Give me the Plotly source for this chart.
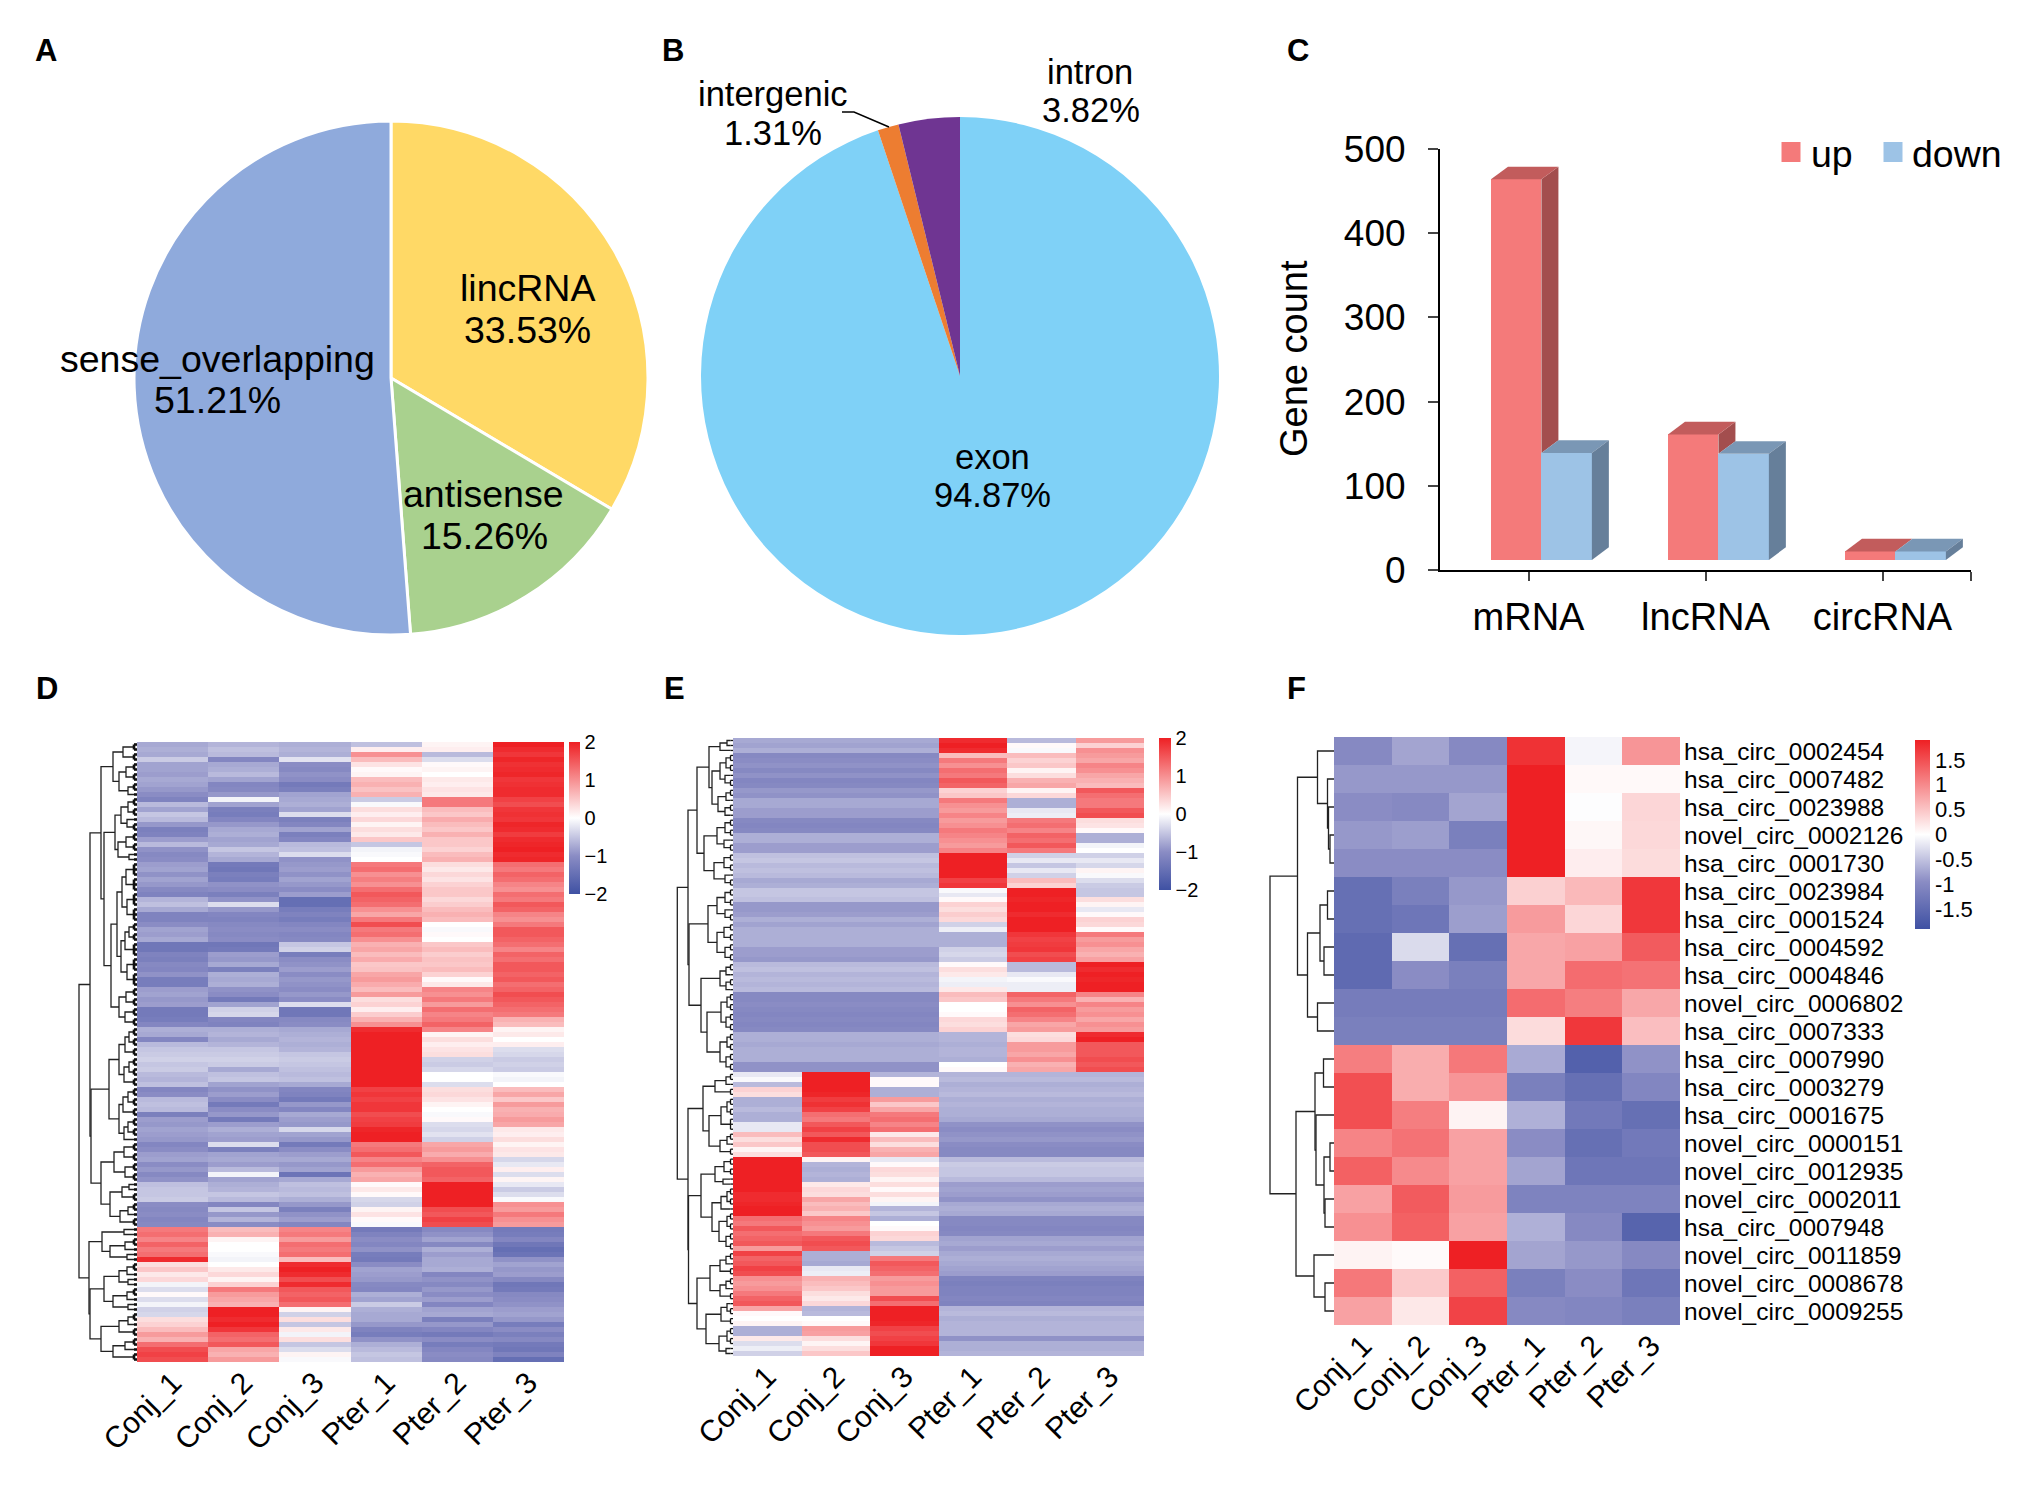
import numpy as np
import plotly.graph_objects as go

W, H = 2033, 1492
FONT = "Liberation Sans"

# panel A and B pies
a_labels = ["lincRNA", "antisense", "sense_overlapping"]
a_values = [33.53, 15.26, 51.21]
a_colors = ["#FFD966", "#A9D18E", "#8FAADC"]
b_labels = ["exon", "intergenic", "intron"]
b_values = [94.87, 1.31, 3.82]
b_colors = ["#7FD1F7", "#ED7D31", "#6F3592"]

# panel C bars
rna_types = ["mRNA", "lncRNA", "circRNA"]
up_counts = [464, 161, 22]
down_counts = [139, 138, 22]
bar_floor = 12

samples = ["Conj_1", "Conj_2", "Conj_3", "Pter_1", "Pter_2", "Pter_3"]

# panel D, one list per column, top row first
d_conj_1 = [-.75,-.7,-.75,-.45,-.8,-.8,-.85,-.75,-.8,-.9,
    -1.0,-1.15,-.6,-.8,-.5,-.6,-.9,-1.2,-1.15,-.85,
    -.6,-.95,-1.05,-1.0,-.85,-.8,-.95,-.8,-.9,-1.05,
    -1.15,-.65,-.55,-.75,-1.15,-1.15,-1.0,-.8,-.85,-.75,
    -1.35,-1.35,-1.15,-1.2,-1.05,-1.1,-.95,-1.25,-1.25,-.85,
    -.8,-.9,-.85,-1.3,-1.3,-1.25,-1.1,-.7,-.75,-1.1,
    -.6,-.5,-.45,-.4,-.5,-.45,-.6,-.65,-.55,-1.1,
    -1.0,-.6,-.55,-.6,-1.2,-.85,-.9,-.8,-.85,-.9,
    -1.1,-1.0,-.85,-.8,-1.0,-.9,-1.05,-.95,-.55,-.5,
    -.5,-.45,-1.0,-1.05,-1.0,-1.1,-1.05,1.2,1.3,1.1,
    1.4,1.2,1.3,1.9,.3,.5,.2,.35,-.1,-.3,
    .05,-.3,-.1,-.4,-.35,.3,.4,.6,.9,.7,
    1.3,1.6,1.7,1.6]
d_conj_2 = [-.65,-.55,-.6,-1.1,-.75,-.7,-.6,-.8,-1.1,-1.05,
    -.9,-.1,-.8,-1.2,-1.25,-1.1,-.9,-.75,-.7,-.8,
    -.75,-.5,-.65,-.75,-1.3,-1.35,-1.2,-1.25,-.95,-1.0,
    -1.2,-.95,-.3,-.9,-1.1,-1.15,-1.05,-1.0,-1.05,-1.0,
    -1.35,-1.3,-.85,-.9,-.75,-1.2,-.7,-.75,-.7,-.95,
    -1.0,-1.3,-.8,-.4,-.35,-1.1,-1.15,-.7,-.65,-.75,
    -.65,-.5,-.45,-.4,-.45,-.75,-.55,-.5,-.8,-.95,
    -.85,-1.0,-1.3,-1.0,-.9,-1.3,-.85,-.7,-.8,-.85,
    -.3,-1.2,-.8,-.75,-.85,-.6,-.1,-.8,-.7,-.65,
    -.5,-.6,-1.1,-.5,-.9,-.65,-1.0,.6,.7,.1,
    0,0,-.05,-.1,0,.2,.35,.1,.4,1.2,
    .9,.8,.7,2,2,1.9,2,1.8,1.4,1.3,
    1.5,.8,.7,.9]
d_conj_3 = [-.7,-.65,-.7,-.25,-1.0,-1.05,-.95,-1.0,-1.3,-1.2,
    -.8,-.75,-.7,-.8,-.3,-1.2,-1.1,-.8,-1.2,-1.1,
    -.6,-.55,-.3,-.95,-.9,-.85,-.95,-.8,-.9,-1.0,
    -.85,-1.5,-1.5,-1.25,-1.15,-1.25,-1.1,-1.0,-1.1,-1.05,
    -.5,-.4,-1.25,-1.0,-.95,-.85,-1.0,-.9,-.95,-1.0,
    -.9,-1.0,-.3,-1.35,-1.35,-1.05,-1.0,-.75,-.7,-.65,
    -.7,-.65,-.5,-.45,-.5,-.55,-.6,-.55,-.75,-1.1,
    -1.15,-1.3,-.9,-1.1,-.75,-.85,-.9,-.35,-.8,-.9,
    -1.3,-1.0,-.85,-.75,-.9,-.8,-1.4,-.75,-.55,-.6,
    -.55,-.7,-.9,-1.2,-.95,-.85,-1.1,1.1,1.2,.9,
    1.3,1.2,1.3,.6,1.9,2,1.9,1.6,1.9,1.5,
    1.4,1.5,1.3,.1,-.4,.3,-.5,.2,-.1,.3,
    -.5,-.3,.1,-.05]
d_pter_1 = [-.55,.15,1.0,.6,.25,.05,.1,.6,.7,.55,
    .7,-.45,-.05,.3,.15,.35,.1,.3,.2,.5,
    -.5,-.1,-.05,0,1.2,1.3,1.0,1.15,1.0,1.3,
    1.5,1.4,1.3,1.0,.8,1.2,1.6,1.2,1.3,1.0,
    .7,.8,.6,.75,.5,.55,.8,.9,.75,.6,
    .9,.3,.4,.15,.45,.7,1.0,1.9,2,2,
    2,2,2,2,2,2,2,2,2,1.7,
    1.8,1.7,1.8,1.8,1.6,1.7,1.75,1.95,2,2,
    1.2,1.3,1.5,1.1,1.3,.9,.7,.8,.05,.2,
    .05,-.35,-.4,.1,.25,.05,-.05,-1.3,-1.15,-1.0,
    -1.1,-.95,-1.25,-1.3,-1.0,-.8,-.85,-.9,-1.05,-1.1,
    -.7,-.8,-.45,-.7,-.75,-.75,-.9,-1.15,-1.25,-.95,
    -.7,-.6,-.5,-.55]
d_pter_2 = [.1,.15,-.6,-.3,.05,.1,0,.2,.15,.25,
    .2,1.2,1.2,.6,.5,.75,.6,.5,.7,.5,
    .5,.4,.6,.7,.3,.2,.35,.25,.4,.5,
    .5,.35,.45,.6,.7,.6,0,-.05,.05,0,
    .5,.6,.45,.55,.5,.6,.4,.05,.2,1.1,
    1.0,1.2,.9,1.3,1.1,1.2,1.4,1.1,.1,.3,
    .15,.25,.3,-.4,-.45,-.35,0,0,-.3,.3,
    .35,.25,.1,0,-.05,.05,-.3,-.35,-.25,-.4,
    .8,.9,.75,1.0,1.4,1.5,1.5,1.4,2,2,
    2,2,2,1.6,1.5,1.7,1.6,-1.05,-.95,-.8,
    -1.05,-.7,-.85,-.75,-.75,-.7,-1.1,-.95,-1.05,-.9,
    -1.0,-.85,-1.1,-.8,-.75,-1.2,-.9,-1.1,-1.3,-1.0,
    -1.25,-1.1,-1.0,-1.05]
d_pter_3 = [2,1.9,1.8,1.95,1.85,1.9,1.95,1.8,1.85,1.9,
    1.9,1.7,1.6,1.8,1.85,1.8,1.95,1.9,1.75,1.9,
    1.95,2,1.9,1.95,1.3,1.2,1.4,1.3,1.1,1.0,
    1.3,1.2,1.5,1.4,1.1,1.0,1.2,1.5,1.5,1.4,
    1.3,1.1,1.4,1.3,1.5,1.5,1.4,1.5,1.3,1.4,
    1.6,1.5,1.4,1.3,1.2,.7,.6,.1,.2,0,
    .15,-.3,-.35,-.45,-.4,-.45,-.05,-.1,0,.6,
    .8,.5,.9,.7,.75,.9,.8,.2,.15,.3,
    .1,.25,.2,-.35,-.2,.15,-.3,.1,-.2,-.45,
    -.3,-.05,1.0,.9,1.2,1.0,.9,-1.3,-1.25,-1.1,
    -1.35,-1.5,-1.4,-.95,-.8,-.9,-.85,-1.05,-1.35,-1.3,
    -1.05,-1.0,-.95,-.85,-.8,-.9,-1.25,-1.0,-1.2,-1.05,
    -1.3,-1.35,-1.15,-1.5]

# panel E, upper 67 rows then lower 57 rows
e_conj_top = [-.75,-.8,-.7,-1.05,-1.0,-.95,-1.05,-.95,-1.1,-1.05,
    -.9,-.95,-.75,-.75,-.85,-.85,-1.05,-1.1,-1.05,-.7,
    -.7,-.85,-.85,-.55,-.5,-.6,-.55,-.6,-.75,-.7,
    -.5,-.5,-.55,-.9,-.9,-.85,-.7,-.8,-.7,-.7,
    -.7,-.7,-.85,-.85,-.9,-.6,-.55,-.65,-.6,-.65,
    -.6,-1.05,-1.05,-1.0,-1.05,-1.1,-1.05,-1.1,-1.05,-.7,
    -.7,-.75,-.7,-.7,-.7,-.95,-.95]
e_pter_1_top = [1.9,2,1.9,.6,1.2,1.0,1.3,1.2,1.5,1.4,
    .4,.5,1.2,1.0,.9,1.1,.9,1.0,1.2,1.1,
    1.0,.9,1.1,2,2,2,2,2,1.7,1.8,
    -.05,-.2,.05,.4,.3,.45,.35,-.4,-.15,-.7,
    -.7,-.7,-.4,-.35,-.45,.05,.3,.2,-.1,-.15,
    .2,.6,.5,0,0,.05,.35,.3,.4,-.65,
    -.65,-.7,-.65,-.65,-.7,0,.05]
e_pter_2_top = [-.6,.05,-.05,.6,.4,.5,.1,.3,.7,.8,
    .1,.35,-.7,-.7,-.2,-.15,1.2,1.3,1.1,1.4,
    1.3,1.5,1.2,-.4,-.2,-.5,-.2,-.4,.6,.4,
    2,2,1.95,2,2,1.9,2,2,2,1.8,
    1.7,1.75,1.8,1.6,1.7,-.6,-.6,-.2,-.05,-.15,
    -.15,1.4,1.2,1.0,1.4,1.3,1.1,.8,.9,.3,
    .35,.9,.9,.8,1.0,.7,.8]
e_pter_3_top = [.9,.4,1.0,.9,.8,1.1,1.0,.8,.7,.6,
    1.5,1.3,1.2,1.2,1.5,1.6,.3,.25,.05,-.7,
    -.7,-.1,0,-.4,-.2,-.35,.1,-.05,-.3,-.45,
    -.5,-.5,.3,.1,-.2,.05,.4,.35,.05,1.2,
    .9,1.0,.8,.7,.85,2,1.9,2,1.95,2,
    2,1.1,.7,1.1,.9,1.0,.8,1.0,.9,1.9,
    2,1.5,1.5,1.5,1.6,1.5,1.6]
e_conj_1_low = [-.2,-.05,-.6,.4,.3,-.7,-.7,-.6,-.7,-.7,
    -.2,-.2,.6,.3,.5,.1,.3,2,2,2,
    2,2,2,2,1.9,1.9,1.95,2,2,1.3,
    1.2,1.5,1.3,1.4,1.5,.9,1.7,1.4,1.5,1.7,
    1.6,1.0,.9,1.0,1.2,1.4,1.5,.8,.05,0,
    .1,-.7,-.7,.2,-.3,-.15,-.4]
e_conj_2_low = [2,2,2,2,1.95,1.75,1.85,1.7,1.3,1.2,
    1.5,1.7,1.5,1.9,1.6,1.6,1.5,.1,-.65,-.7,
    -.65,-.7,.2,.35,.3,.8,.6,.7,.5,1.1,
    1.0,.9,1.2,1.5,1.6,1.5,-.7,-.7,-.75,-.2,
    -.15,.7,.6,.5,.3,.2,.35,-.65,-.6,0,
    .05,.9,.85,.3,.1,.3,.5]
e_conj_3_low = [-.65,.05,.05,-.7,-.7,.9,.5,.8,1.2,1.3,
    1.1,1.3,.2,.6,.3,.7,.8,-.2,.05,.35,
    .3,.1,.3,.05,.3,.1,-.1,-.65,-.5,-.7,
    0,.05,.4,.35,-.6,-.5,-.4,1.2,1.5,1.4,
    1.3,.9,1.0,.9,.9,1.6,1.3,2,2,2,
    1.95,1.7,1.6,1.7,1.8,2,2]
e_pter_low = [-.65,-.6,-.7,-.65,-.6,-.7,-.65,-.7,-.7,-.75,
    -.95,-1.0,-.95,-.9,-1.0,-1.05,-1.05,-.6,-.45,-.5,
    -.5,-.6,-.85,-.8,-.85,-.95,-.75,-.7,-.75,-1.05,
    -1.05,-1.1,-1.05,-.8,-.75,-.85,-.75,-.7,-.75,-.8,
    -.85,-1.15,-1.2,-1.15,-1.15,-1.1,-1.15,-.65,-.6,-.7,
    -.65,-.65,-.65,-.95,-.7,-.7,-.65]

# panel F
f_rows = ["hsa_circ_0002454", "hsa_circ_0007482", "hsa_circ_0023988", "novel_circ_0002126",
    "hsa_circ_0001730", "hsa_circ_0023984", "hsa_circ_0001524", "hsa_circ_0004592",
    "hsa_circ_0004846", "novel_circ_0006802", "hsa_circ_0007333", "hsa_circ_0007990",
    "hsa_circ_0003279", "hsa_circ_0001675", "novel_circ_0000151", "novel_circ_0012935",
    "novel_circ_0002011", "hsa_circ_0007948", "novel_circ_0011859", "novel_circ_0008678",
    "novel_circ_0009255"]
f_values = [[-1.0,-.75,-1.0,1.75,-.08,.9],
    [-.85,-.85,-.85,1.9,.05,.05],
    [-.95,-1.0,-.75,1.9,-.02,.35],
    [-.85,-.8,-1.15,1.9,.07,.33],
    [-.95,-.95,-.95,1.9,.15,.3],
    [-1.4,-1.15,-.85,.4,.6,1.7],
    [-1.4,-1.3,-.8,.85,.35,1.7],
    [-1.5,-.3,-1.4,.75,.8,1.4],
    [-1.5,-.95,-1.15,.75,1.25,1.2],
    [-1.2,-1.2,-1.2,1.25,1.1,.75],
    [-1.15,-1.15,-1.15,.3,1.7,.55],
    [1.1,.7,1.15,-.7,-1.65,-.9],
    [1.5,.7,.9,-1.15,-1.4,-1.05],
    [1.5,1.1,.1,-.65,-1.25,-1.4],
    [1.05,1.2,.8,-.95,-1.4,-1.25],
    [1.35,1.0,.8,-.75,-1.3,-1.3],
    [.8,1.4,.85,-1.1,-1.1,-1.1],
    [.95,1.35,.8,-.65,-1.0,-1.6],
    [.1,.04,1.9,-.75,-.85,-1.0],
    [1.15,.45,1.35,-1.15,-.95,-1.3],
    [.8,.2,1.6,-1.0,-1.05,-1.15]]

# dendrograms: [height, upper child, lower child], an int is that many rows
d_tree = [58,
    [47,
        [36,
            [24,[14,2,2],[18,[11,2,2],[9,2,1]]],
            [33,
                [22,[16,[9,2,2],[10,1,2]],[19,[11,2,2],[8,1,1]]],
                [26,
                    [20,[15,[11,3,3],[10,3,3]],[16,[12,[8,2,2],3],[10,3,3]]],
                    [18,[11,2,2],[12,2,2]]]]],
        [46,
            [28,
                [18,[12,[8,2,2],2],[13,[8,2,2],2]],
                [18,[14,[9,2,2],2],[13,[9,2,2],1]]],
            [36,
                [23,[13,2,2],[12,2,2]],
                [27,[15,[8,1,1],2],[17,[9,2,1],2]]]]],
    [48,
        [35,[13,1,1],[27,[12,2,1],[10,1,1]]],
        [47,
            [33,[18,[10,2,1],[9,1,1]],[24,[10,2,1],[9,1,1]]],
            [36,[18,[9,2,1],2],[24,[12,2,1],2]]]]]
e_tree = [55.7,
    [45,
        [36,
            [24,[13,[6,1,1],1],[21,[13,[7,2,2],[8,1,2]],[15,[7,2,1],[8,2,1]]]],
            [29,[16,[8,2,2],[9,1,2]],[19,[9,2,2],[8,1,2]]]],
        [44,
            [25,[16,[8,2,2],[8,1,2]],[16,[9,2,2],[8,2,2]]],
            [32,[13,[7,2,1],[7,2,1]],[26,[12,[6,2,2],[7,2,2]],[13,[6,2,2],[7,2,2]]]]]],
    [45,
        [30,[18,[7,2,1],2],[24,[12,[6,2,2],3],[13,[6,2,1],2]]],
        [44.5,
            [32,[18,[9,2,2],[10,1,1]],[21,[12,[6,2,2],1],[14,[6,2,2],[7,2,2]]]],
            [36,
                [23,[13,[7,2,1],2],[13,[7,2,1],2]],
                [27,[12,[6,1,2],2],[14,[6,2,2],[7,1,1]]]]]]]
f_tree = [64,
    [36.5,
        [16.5,1,[6.5,1,[5.5,1,[4,1,1]]]],
        [26.5,[14,[6.5,1,1],[10,1,1]],[16.5,1,1]]],
    [38,
        [19,[10.5,1,1],[18,1,[10,[4,1,1],[9,1,1]]]],
        [20,1,[9,1,1]]]]

heat_scale = [[0, "#3F51A3"], [.25, "#8A8CC4"], [.5, "#FFFFFF"], [1, "#EE2024"]]


def fx(px):
    return px / W


def fy(px):
    return 1 - px / H


def walk(node, row, xs, ys, cx, cy, comb):
    if isinstance(node, int):
        if node == 1:
            cx += [comb, 0, None]
            cy += [row, row, None]
            return comb, row, row + 1
        for r in range(row, row + node):
            cx += [comb, 0, None]
            cy += [r, r, None]
        cx += [comb, comb, None]
        cy += [row, row + node - 1, None]
        return comb, row + (node - 1) / 2, row + node
    h, top, bottom = node
    h1, c1, row = walk(top, row, xs, ys, cx, cy, comb)
    h2, c2, row = walk(bottom, row, xs, ys, cx, cy, comb)
    xs += [h1, h, h, h2, None]
    ys += [c1, c1, c2, c2, None]
    return h, (c1 + c2) / 2, row


fig = go.Figure()
layout_axes = {}
notes = []
shapes = []


def note(x, y, text, size, bold=False, **kw):
    notes.append(dict(x=fx(x), y=fy(y), xref="paper", yref="paper", text=text, showarrow=False,
                      xanchor=kw.pop("xanchor", "center"), yanchor="middle",
                      font=dict(family=FONT, size=size, color="black",
                                weight="bold" if bold else "normal"), **kw))


def pie(labels, values, colors, cx, cy, r, line):
    fig.add_trace(go.Pie(labels=labels, values=values, sort=False, direction="clockwise", rotation=0,
                         marker=dict(colors=colors, line=dict(color="white", width=line)),
                         textinfo="none", hoverinfo="label+percent", showlegend=False,
                         domain=dict(x=[fx(cx - r), fx(cx + r)], y=[fy(cy + r), fy(cy - r)])))


pie(a_labels, a_values, a_colors, 391, 378, 257, 3)
pie(b_labels, b_values, b_colors, 960, 376, 259, 0)

for x, y, t in [(527, 288, "lincRNA"), (527, 330, "33.53%"), (217, 359, "sense_overlapping"),
                (217, 400, "51.21%"), (483, 494, "antisense"), (484, 536, "15.26%")]:
    note(x, y, t, 37.5)
for x, y, t in [(1090, 72, "intron"), (1091, 110, "3.82%"), (773, 94, "intergenic"), (773, 133, "1.31%"),
                (992, 457, "exon"), (992, 495, "94.87%")]:
    note(x, y, t, 34.5)
shapes.append(dict(type="path", xref="paper", yref="paper", line=dict(color="black", width=1.5),
                   path=f"M {fx(842)} {fy(112)} L {fx(854)} {fy(112)} L {fx(889)} {fy(127)}"))

for x, y, t in [(46, 51, "A"), (673, 51, "B"), (1298, 51, "C"), (47, 688, "D"), (674, 688, "E"), (1296, 688, "F")]:
    note(x, y, t, 31, bold=True)

# panel C, faux 3D bars
bar_w = 0.285
shift = 0.073
depth_x = 0.096
depth_y = 15
centers = [i + 0.5 + shift for i in range(3)]


def face(xs, ys, color):
    fig.add_trace(go.Scatter(x=xs, y=ys, fill="toself", fillcolor=color, mode="none",
                             hoverinfo="skip", showlegend=False, xaxis="x", yaxis="y"))


fig.add_trace(go.Bar(x=[c - bar_w / 2 for c in centers], y=[v - bar_floor for v in up_counts], base=bar_floor,
                     width=bar_w, marker=dict(color="#F47A7A", line=dict(width=0)), name="up", showlegend=False,
                     xaxis="x", yaxis="y"))
fig.add_trace(go.Bar(x=[c + bar_w / 2 for c in centers], y=[v - bar_floor for v in down_counts], base=bar_floor,
                     width=bar_w, marker=dict(color="#9DC3E6", line=dict(width=0)), name="down", showlegend=False,
                     xaxis="x", yaxis="y"))
for c, u, d in zip(centers, up_counts, down_counts):
    x0, x1, x2 = c - bar_w, c, c + bar_w
    # side of the up bar stops where the down bar starts to hide it
    low = max(d, bar_floor)
    face([x1, x1 + depth_x, x1 + depth_x, x1], [u, u + depth_y, low + depth_y, low], "#A34E4E")
    face([x0, x1, x1 + depth_x, x0 + depth_x], [u, u, u + depth_y, u + depth_y], "#C25C5C")
    face([x1, x2, x2 + depth_x, x1 + depth_x], [d, d, d + depth_y, d + depth_y], "#7A97B5")
    face([x2, x2 + depth_x, x2 + depth_x, x2], [d, d + depth_y, bar_floor + depth_y, bar_floor], "#667F9A")

layout_axes["xaxis"] = dict(domain=[fx(1440), fx(1971)], range=[0, 3], tickvals=[.5, 1.5, 2.5, 3],
                            ticktext=rna_types + [""], ticks="outside", ticklen=9, tickwidth=1.5,
                            showline=True, linecolor="black", linewidth=2, showgrid=False, zeroline=False,
                            ticklabelstandoff=3, tickfont=dict(family=FONT, size=38, color="black"), anchor="y")
layout_axes["yaxis"] = dict(domain=[fy(570), fy(149)], range=[0, 500], tickvals=[0, 100, 200, 300, 400, 500],
                            ticks="outside", ticklen=10, tickwidth=1.5, showline=True, linecolor="black", linewidth=2,
                            showgrid=False, zeroline=False, ticklabelstandoff=15,
                            tickfont=dict(family=FONT, size=37, color="black"), anchor="x")
note(1294, 359, "Gene count", 38, textangle=-90)
for x0, color, x_text, t in [(1781.5, "#F47A7A", 1809, "up"), (1883.5, "#9DC3E6", 1910, "down")]:
    shapes.append(dict(type="rect", xref="paper", yref="paper", x0=fx(x0), x1=fx(x0 + 19), y0=fy(162), y1=fy(142),
                       fillcolor=color, line=dict(width=0)))
    note(x_text, 154, t, 37.5, xanchor="left")


def heat_panel(num, columns, left, right, top, bottom, tree, dendro_w, comb, comb_w, colorbar, ylabels=None, zlim=2):
    n_rows = len(columns)
    xa, ya = f"x{num}", f"y{num}"
    xd, yd = f"x{num + 1}", f"y{num + 1}"
    fig.add_trace(go.Heatmap(z=columns, x=samples, y=list(range(n_rows)),
                             zmin=-zlim, zmax=zlim, colorscale=heat_scale, colorbar=colorbar,
                             xaxis=xa, yaxis=ya, hoverinfo="skip"))
    xs, ys, cx, cy = [], [], [], []
    walk(tree, 0, xs, ys, cx, cy, comb)
    fig.add_trace(go.Scatter(x=xs, y=ys, mode="lines", line=dict(color="#222222", width=1.3),
                             hoverinfo="skip", showlegend=False, xaxis=xd, yaxis=yd))
    # tips of the tree, packed so tightly in the big panels that they read as a dark band
    fig.add_trace(go.Scatter(x=cx, y=cy, mode="lines", line=dict(color="#111111", width=comb_w),
                             hoverinfo="skip", showlegend=False, xaxis=xd, yaxis=yd))
    yrange = [n_rows - .5, -.5]
    layout_axes[f"xaxis{num}"] = dict(domain=[fx(left), fx(right)], anchor=ya, tickangle=-45, ticks="",
                                      ticklabelstandoff=-4, showgrid=False, zeroline=False,
                                      tickfont=dict(family=FONT, size=30, color="black"))
    y_opts = dict(domain=[fy(bottom), fy(top)], anchor=xa, range=yrange, showgrid=False, zeroline=False,
                  showticklabels=False, side="right", ticks="")
    if ylabels:
        # every row keeps its label, no thinning
        y_opts.update(showticklabels=True, tickmode="array", tickvals=list(range(n_rows)), ticktext=ylabels,
                      ticklabelstandoff=3, tickfont=dict(family=FONT, size=24.5, color="black"))
    layout_axes[f"yaxis{num}"] = y_opts
    layout_axes[f"xaxis{num + 1}"] = dict(domain=[fx(left - dendro_w), fx(left)], anchor=yd, range=[dendro_w, 0],
                                          visible=False)
    layout_axes[f"yaxis{num + 1}"] = dict(domain=[fy(bottom), fy(top)], anchor=xd, range=yrange, visible=False)


def bar_opts(x, top, bottom, thick, size, vals, text):
    return dict(x=fx(x), xanchor="left", xpad=0, y=fy(top), yanchor="top", ypad=0, len=(bottom - top) / H,
                thickness=thick, outlinewidth=0, ticks="", tickvals=vals, ticktext=text,
                tickfont=dict(family=FONT, size=size, color="black"))


d_cols = [d_conj_1, d_conj_2, d_conj_3, d_pter_1, d_pter_2, d_pter_3]
d_z = np.array(d_cols).T.tolist()
e_cols = [e_conj_top + e_conj_1_low, e_conj_top + e_conj_2_low, e_conj_top + e_conj_3_low,
          e_pter_1_top + e_pter_low, e_pter_2_top + e_pter_low, e_pter_3_top + e_pter_low]
e_z = np.array(e_cols).T.tolist()

d_ticks = [-2, -1, 0, 1, 2]
d_text = ["\u22122", "\u22121", "0", "1", "2"]
f_ticks = [-1.5, -1, -.5, 0, .5, 1, 1.5]
f_text = ["-1.5", "-1", "-0.5", "0", "0.5", "1", "1.5"]

heat_panel(2, d_z, 137, 564, 742, 1362, d_tree, 60, 3, 2.6, bar_opts(569, 742, 894, 11, 20, d_ticks, d_text))
heat_panel(4, e_z, 733, 1144, 738, 1356, e_tree, 60, 2.5, 1.3, bar_opts(1159, 738, 890, 12, 20, d_ticks, d_text))
heat_panel(6, f_values, 1334, 1680, 737, 1325, f_tree, 66, 0, 1.2, bar_opts(1915, 740, 929, 15, 22, f_ticks, f_text),
           ylabels=f_rows, zlim=1.9)

fig.update_layout(width=W, height=H, margin=dict(l=0, r=0, t=0, b=0, autoexpand=False), paper_bgcolor="white",
                  plot_bgcolor="white", barmode="overlay", bargap=0, showlegend=False, annotations=notes,
                  shapes=shapes, font=dict(family=FONT), **layout_axes)

fig.write_html("out.html", config=dict(displayModeBar=False),
               post_script="document.body.style.margin='0';document.body.style.overflow='hidden';")
